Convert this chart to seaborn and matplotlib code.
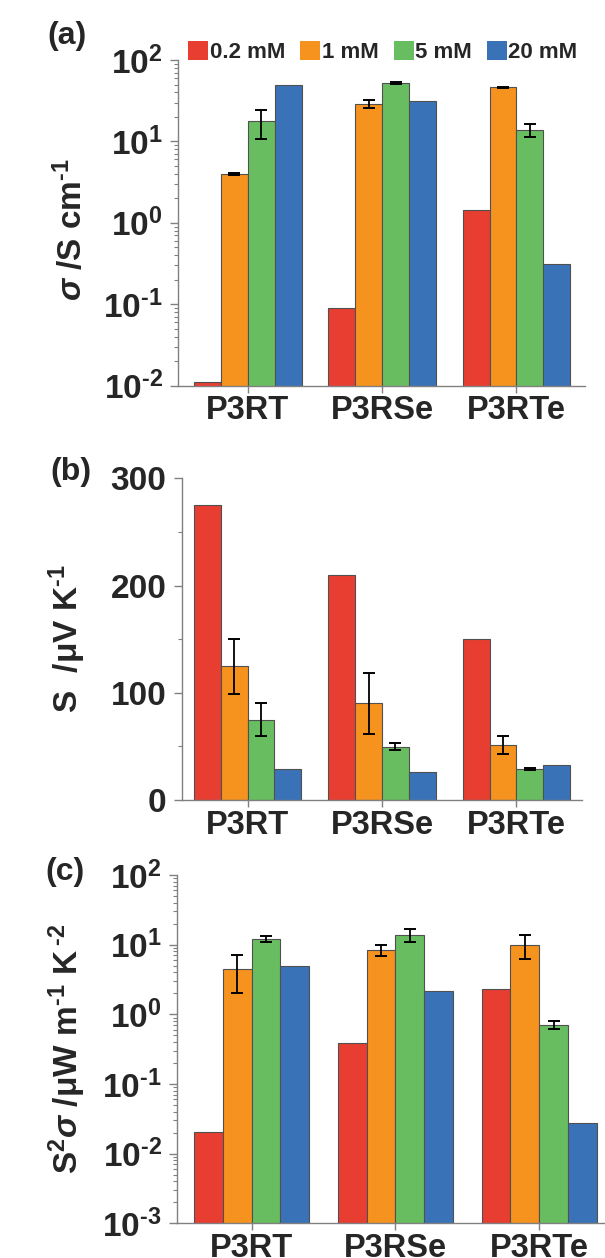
import numpy as np
import pandas as pd
import matplotlib
matplotlib.use('Agg')
import matplotlib.pyplot as plt
import matplotlib.ticker as mticker
from matplotlib.container import BarContainer
import seaborn as sns

# ---- data ----
polymers = ['P3RT', 'P3RSe', 'P3RTe']
concs = ['0.2 mM', '1 mM', '5 mM', '20 mM']
colors = ['#E83E32', '#F6921E', '#68BD60', '#3A72B8']

# (a) electrical conductivity, S/cm  (rows = concentration)
sigma = [[0.011, 0.091, 1.43],
         [3.97, 29.0, 46.0],
         [17.6, 52.0, 13.8],
         [50.0, 31.6, 0.31]]
sigma_err = [[0, 0, 0],
             [0.08, 3.5, 1.2],
             [7.0, 1.5, 2.4],
             [0, 0, 0]]

# (b) Seebeck coefficient, uV/K
seebeck = [[275, 210, 150],
           [124.5, 90, 51.3],
           [75, 49.8, 29],
           [29, 25.8, 32.3]]
seebeck_err = [[0, 0, 0],
               [26, 28.7, 8.2],
               [15.5, 3.6, 1.0],
               [0, 0, 0]]

# (c) power factor, uW m-1 K-2
pf = [[0.0205, 0.384, 2.31],
      [4.52, 8.38, 10.0],
      [12.05, 13.8, 0.711],
      [4.94, 2.16, 0.0275]]
pf_err = [[0, 0, 0],
          [2.5, 1.5, 3.7],
          [1.1, 2.8, 0.1],
          [0, 0, 0]]

sns.set_style('ticks')
plt.rcParams['font.family'] = ['Liberation Sans', 'DejaVu Sans']
plt.rcParams['font.weight'] = 'bold'
plt.rcParams['mathtext.fontset'] = 'custom'
plt.rcParams['mathtext.rm'] = 'Liberation Sans:bold'
plt.rcParams['mathtext.bf'] = 'Liberation Sans:bold'
plt.rcParams['mathtext.sf'] = 'Liberation Sans:bold'
plt.rcParams['mathtext.it'] = 'Liberation Sans:bold:italic'
plt.rcParams['mathtext.default'] = 'rm'

W, H = 605, 1258
fig = plt.figure(figsize=(W / 100, H / 100), dpi=100)

TICK_FS = 24
LAB_FS = 24
CAT_FS = 23.5


def px_axes(left, top, right, bottom):
    return fig.add_axes([left / W, 1 - bottom / H, (right - left) / W, (bottom - top) / H])


def long_df(vals):
    rows = []
    for ci, c in enumerate(concs):
        for pi, p in enumerate(polymers):
            rows.append({'polymer': p, 'conc': c, 'val': vals[ci][pi]})
    return pd.DataFrame(rows)


def draw_panel(ax, vals, errs, log, legend=False):
    sns.barplot(data=long_df(vals), x='polymer', y='val', hue='conc',
                order=polymers, hue_order=concs, palette=colors,
                saturation=1, width=0.8, errorbar=None, ax=ax,
                edgecolor='#505050', linewidth=0.8, legend=legend)
    if log:
        ax.set_yscale('log')
    # error bars on top of the bars seaborn drew
    bar_sets = [c for c in ax.containers if isinstance(c, BarContainer)]
    for ci, cont in enumerate(bar_sets):
        xs, ys, es = [], [], []
        for pi, bar in enumerate(cont.patches):
            if errs[ci][pi] > 0:
                xs.append(bar.get_x() + bar.get_width() / 2)
                ys.append(bar.get_height())
                es.append(errs[ci][pi])
        if xs:
            ax.errorbar(xs, ys, yerr=es, fmt='none', ecolor='black',
                        elinewidth=1.3, capsize=4, capthick=1.4, zorder=5)
    ax.set_xlabel('')
    sns.despine(ax=ax)
    for s in ['left', 'bottom']:
        ax.spines[s].set_color('#808080')
        ax.spines[s].set_linewidth(1.0)
    ax.tick_params(axis='x', length=5, width=1, color='#808080', labelsize=CAT_FS, pad=2)
    ax.tick_params(axis='y', which='major', length=6, width=1, color='#808080',
                   labelsize=TICK_FS, pad=5)
    ax.tick_params(axis='y', which='minor', length=3, width=0.8, color='#808080')
    for t in ax.get_xticklabels():
        t.set_fontweight('bold')


def log_fmt(v, pos):
    e = int(round(np.log10(v)))
    if e < 0:
        return r'$10^{\text{-}%d}$' % (-e)
    return r'$10^{%d}$' % e


# ---- (a) conductivity ----
ax_a = px_axes(178, 60, 585, 385.7)
draw_panel(ax_a, sigma, sigma_err, log=True, legend=True)
ax_a.set_ylim(1e-2, 1e2)
ax_a.set_xlim(-0.52, 2.51)
ax_a.yaxis.set_major_locator(mticker.FixedLocator([1e-2, 1e-1, 1e0, 1e1, 1e2]))
ax_a.yaxis.set_major_formatter(mticker.FuncFormatter(log_fmt))
ax_a.yaxis.set_minor_locator(mticker.LogLocator(base=10, subs=np.arange(2, 10)))
ax_a.yaxis.set_minor_formatter(mticker.NullFormatter())
ax_a.set_ylabel(r'$\mathit{\sigma}$ /S cm$^{\text{-}1}$', fontsize=LAB_FS, fontweight='bold')
ax_a.yaxis.set_label_coords((89 - 178) / 407, 0.48)
handles, labels = ax_a.get_legend_handles_labels()
ax_a.get_legend().remove()
for h in handles:
    h.set_edgecolor('none')
fig.legend(handles, labels, ncol=4, loc='center',
           bbox_to_anchor=(383 / W, 1 - 52 / H), frameon=False,
           prop={'size': 16, 'weight': 'bold'}, handlelength=0.9,
           handleheight=0.9, handletextpad=0.05, columnspacing=0.7,
           borderaxespad=0, borderpad=0)

# ---- (b) Seebeck ----
ax_b = px_axes(181.7, 478.3, 581.7, 800)
draw_panel(ax_b, seebeck, seebeck_err, log=False)
ax_b.set_ylim(0, 300)
ax_b.set_xlim(-0.49, 2.485)
ax_b.yaxis.set_major_locator(mticker.MultipleLocator(100))
ax_b.yaxis.set_minor_locator(mticker.MultipleLocator(50))
ax_b.set_ylabel(r'S  /μV K$^{\text{-}1}$', fontsize=LAB_FS, fontweight='bold')
ax_b.yaxis.set_label_coords((88 - 181.7) / 400, 0.5)

# ---- (c) power factor ----
ax_c = px_axes(177, 875, 611, 1223.3)
draw_panel(ax_c, pf, pf_err, log=True)
ax_c.set_ylim(1e-3, 1e2)
ax_c.set_xlim(-0.52, 2.5)
ax_c.yaxis.set_major_locator(mticker.FixedLocator([1e-3, 1e-2, 1e-1, 1e0, 1e1, 1e2]))
ax_c.yaxis.set_major_formatter(mticker.FuncFormatter(log_fmt))
ax_c.yaxis.set_minor_locator(mticker.LogLocator(base=10, subs=np.arange(2, 10)))
ax_c.yaxis.set_minor_formatter(mticker.NullFormatter())
ax_c.set_ylabel(r'S$^{2}\mathit{\sigma}$ /μW m$^{\text{-}1}$ K$\,^{\text{-}2}$',
                fontsize=LAB_FS, fontweight='bold')
ax_c.yaxis.set_label_coords((88 - 177) / 434, 0.5)

# panel letters
for lab, x, y in [('(a)', 67, 36), ('(b)', 71, 472), ('(c)', 65, 872)]:
    fig.text(x / W, 1 - y / H, lab, fontsize=23, fontweight='bold',
             ha='center', va='center')

fig.savefig('out.png', dpi=100)
